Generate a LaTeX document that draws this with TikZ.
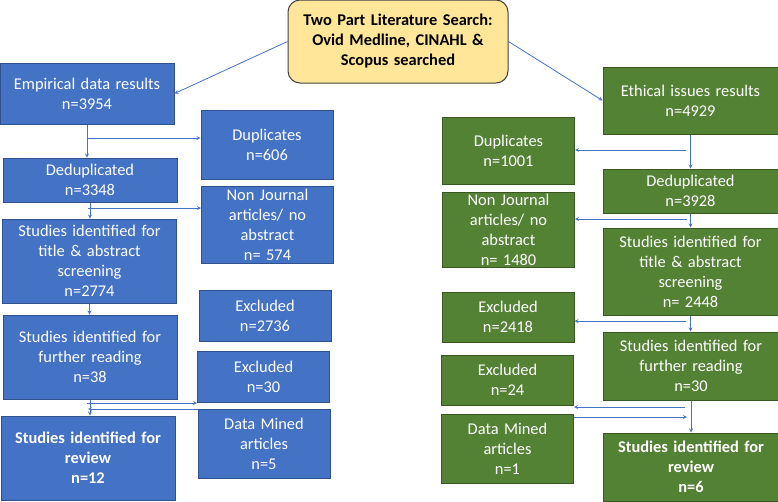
\documentclass[tikz,border=0pt]{standalone}
\usepackage{fontspec}
\setmainfont{Carlito}
\usetikzlibrary{shapes.geometric, arrows}
\definecolor{offblue}{HTML}{4472C4}
\definecolor{offblueline}{HTML}{2F528F}
\definecolor{offgreen}{HTML}{548235}
\definecolor{offgreenline}{HTML}{385723}
\definecolor{offyellow}{HTML}{FFE699}
\tikzstyle{blocky} = [rectangle, draw=black!75, line width=1pt, rounded corners=12pt, text width=220pt, text centered, inner xsep=0pt, inner ysep=0pt, fill=offyellow, font=\fontsize{16.4}{20}\selectfont\bfseries]
\tikzstyle{blockb} = [rectangle, draw=offblueline, line width=1pt, text width=174pt, text centered, inner xsep=0pt, inner ysep=0pt, fill=offblue, text=white]
\tikzstyle{blockbs} = [rectangle, draw=offblueline, line width=1pt, text width=132pt, text centered, inner xsep=0pt, inner ysep=0pt, fill=offblue, text=white]
\tikzstyle{blockg} = [rectangle, draw=offgreenline, line width=1pt, text width=175pt, text centered, inner xsep=0pt, inner ysep=0pt, fill=offgreen, text=white]
\tikzstyle{blockgs} = [rectangle, draw=offgreenline, line width=1pt, text width=132pt, text centered, inner xsep=0pt, inner ysep=0pt, fill=offgreen, text=white]
\tikzstyle{line} = [draw=offblue, line width=0.8pt, ->, >=stealth]

\begin{document}
\begin{tikzpicture}[x=1pt, y=-1pt, font=\fontsize{16.4}{20}\selectfont]
\useasboundingbox (0,0) rectangle (778,501);

\node [blocky, minimum height=83pt] (search) at (398,41.5) {Two Part Literature Search:\\ Ovid Medline, CINAHL \&\\ Scopus searched};

% empirical side
\node [blockb, minimum height=61pt] (emp) at (87,93.5) {Empirical data results\\ n=3954};
\node [blockb, minimum height=44pt] (dedup) at (90,180) {Deduplicated\\ n=3348};
\node [blockb, minimum height=84pt] (title) at (89.5,261) {Studies identified for\\ title \& abstract\\ screening\\ n=2774};
\node [blockb, minimum height=84pt] (further) at (90,357) {Studies identified for\\ further reading\\ n=38};
\node [blockb, minimum height=84pt] (review) at (88,458) {\bfseries Studies identified for\\ review\\ n=12};

\node [blockbs, minimum height=69pt] (dup) at (267,144.5) {Duplicates\\ n=606};
\node [blockbs, minimum height=77pt] (nonjour) at (267.5,224.5) {Non Journal\\ articles/ no\\ abstract\\ n= 574};
\node [blockbs, minimum height=51pt] (excl) at (265,315.5) {Excluded\\ n=2736};
\node [blockbs, minimum height=51pt] (exclb) at (263.5,376.5) {Excluded\\ n=30};
\node [blockbs, minimum height=69pt] (mined) at (264,443.5) {Data Mined\\ articles\\ n=5};

% ethical side
\node [blockg, minimum height=67pt] (eth) at (690.5,100.5) {Ethical issues results\\ n=4929};
\node [blockg, minimum height=44pt] (dedupg) at (690.5,191) {Deduplicated\\ n=3928};
\node [blockg, minimum height=87pt] (titleg) at (690.5,271.5) {Studies identified for\\ title \& abstract\\ screening\\ n= 2448};
\node [blockg, minimum height=68pt] (furtherg) at (691,366) {Studies identified for\\ further reading\\ n=30};
\node [blockg, minimum height=68pt] (reviewg) at (691,467) {\bfseries Studies identified for\\ review\\ n=6};

\node [blockgs, minimum height=67pt] (dupg) at (508.5,150.5) {Duplicates\\ n=1001};
\node [blockgs, minimum height=75pt] (nonjourg) at (508.5,229.5) {Non Journal\\ articles/ no\\ abstract\\ n= 1480};
\node [blockgs, minimum height=50pt] (exclg) at (508,317) {Excluded\\ n=2418};
\node [blockgs, minimum height=50pt] (exclgb) at (507.5,380) {Excluded\\ n=24};
\node [blockgs, minimum height=69pt] (minedg) at (507.5,448.5) {Data Mined\\ articles\\ n=1};

\coordinate (b1) at (87,138);
\coordinate (b2) at (88,208);
\coordinate (b3) at (87,403);
\coordinate (b4) at (88,409);
\coordinate (b5) at (686,150);
\coordinate (b6) at (687,219);
\coordinate (b7) at (686,321);
\coordinate (b8) at (685,407);
\coordinate (b9) at (687,417);

\path [line] (search.west) -- (emp.east);
\path [line] (search.east) -- (eth.west);

\path [line] (emp.south) -- (emp.south |- dedup.north);
\path [line] (b1) -- (b1 -| dup.west);
\path [line] (dedup.south) -- (dedup.south |- title.north);
\path [line] (b2) -- (b2 -| nonjour.west);
\path [line] (title.south) -- (title.south |- further.north);
\path [line] (further.south) -- (further.south |- review.north);
\path [line] (b3) -- (b3 -| exclb.west);
\path [line] (b4 -| mined.west) -- (b4);

\path [line] (eth.south) -- (eth.south |- dedupg.north);
\path [line] (b5) -- (b5 -| dupg.east);
\path [line] (dedupg.south) -- (dedupg.south |- titleg.north);
\path [line] (b6) -- (b6 -| nonjourg.east);
\path [line] (titleg.south) -- (titleg.south |- furtherg.north);
\path [line] (b7) -- (b7 -| exclg.east);
\path [line] (furtherg.south) -- (furtherg.south |- reviewg.north);
\path [line] (b8) -- (b8 -| exclgb.east);
\path [line] (b9 -| minedg.east) -- (b9);

\end{tikzpicture}
\end{document}
